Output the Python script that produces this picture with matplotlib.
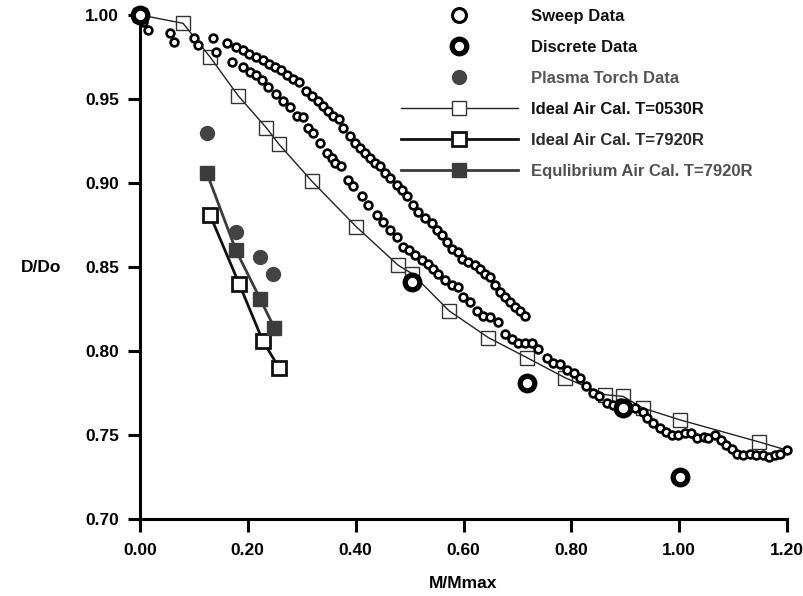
import numpy as np
import matplotlib
matplotlib.use("Agg")
import matplotlib.pyplot as plt
from matplotlib.lines import Line2D

# sweep data (three runs: upper, lower and the merged tail)
sweep_upper_x = [0.006, 0.015, 0.056, 0.100, 0.135, 0.161, 0.178, 0.191, 0.202, 0.215, 0.228,
                 0.239, 0.250, 0.262, 0.273, 0.284, 0.295, 0.308, 0.319, 0.330, 0.340, 0.349,
                 0.358, 0.369, 0.377, 0.390, 0.399, 0.408, 0.417, 0.427, 0.436, 0.445, 0.455,
                 0.464, 0.477, 0.486, 0.495, 0.506, 0.516, 0.529, 0.542, 0.551, 0.560, 0.570,
                 0.579, 0.590, 0.597, 0.609, 0.622, 0.631, 0.640, 0.649, 0.659, 0.668, 0.677,
                 0.686, 0.696, 0.705, 0.714]
sweep_upper_y = [0.996, 0.991, 0.989, 0.986, 0.986, 0.983, 0.981, 0.979, 0.977, 0.975, 0.973,
                 0.971, 0.969, 0.967, 0.964, 0.962, 0.960, 0.955, 0.952, 0.949, 0.946, 0.943,
                 0.940, 0.938, 0.933, 0.928, 0.924, 0.921, 0.918, 0.915, 0.912, 0.910, 0.906,
                 0.903, 0.899, 0.896, 0.892, 0.887, 0.883, 0.879, 0.876, 0.872, 0.869, 0.865,
                 0.861, 0.859, 0.855, 0.853, 0.851, 0.849, 0.846, 0.844, 0.839, 0.835, 0.832,
                 0.829, 0.826, 0.824, 0.821]

sweep_lower_x = [0.063, 0.108, 0.141, 0.171, 0.191, 0.204, 0.215, 0.226, 0.237, 0.252, 0.265,
                 0.278, 0.291, 0.302, 0.312, 0.321, 0.334, 0.347, 0.356, 0.362, 0.373, 0.386,
                 0.395, 0.412, 0.423, 0.440, 0.451, 0.464, 0.477, 0.488, 0.499, 0.510, 0.523,
                 0.534, 0.544, 0.553, 0.566, 0.579, 0.590, 0.599, 0.612, 0.625, 0.636, 0.649,
                 0.664]
sweep_lower_y = [0.984, 0.982, 0.978, 0.972, 0.969, 0.966, 0.964, 0.961, 0.957, 0.953, 0.949,
                 0.945, 0.940, 0.939, 0.933, 0.930, 0.924, 0.918, 0.915, 0.912, 0.910, 0.902,
                 0.898, 0.892, 0.887, 0.881, 0.877, 0.872, 0.868, 0.862, 0.860, 0.857, 0.854,
                 0.852, 0.849, 0.846, 0.842, 0.839, 0.838, 0.832, 0.829, 0.824, 0.821, 0.820,
                 0.817]

sweep_tail_x = [0.677, 0.690, 0.701, 0.714, 0.727, 0.738, 0.755, 0.766, 0.779, 0.792, 0.805,
                0.816, 0.827, 0.840, 0.852, 0.866, 0.878, 0.891, 0.904, 0.918, 0.933, 0.941,
                0.952, 0.965, 0.976, 0.987, 0.998, 1.011, 1.022, 1.033, 1.045, 1.054, 1.067,
                1.078, 1.087, 1.098, 1.108, 1.119, 1.132, 1.143, 1.156, 1.167, 1.178, 1.187,
                1.199]
sweep_tail_y = [0.810, 0.807, 0.805, 0.805, 0.805, 0.801, 0.796, 0.793, 0.792, 0.789, 0.787,
                0.784, 0.779, 0.775, 0.773, 0.769, 0.768, 0.769, 0.766, 0.766, 0.764, 0.760,
                0.757, 0.754, 0.752, 0.750, 0.750, 0.751, 0.751, 0.748, 0.749, 0.748, 0.750,
                0.747, 0.744, 0.742, 0.739, 0.738, 0.739, 0.738, 0.738, 0.737, 0.738, 0.739,
                0.741]

discrete_x = [0.0, 0.505, 0.718, 0.896, 1.002]
discrete_y = [1.0, 0.841, 0.781, 0.766, 0.725]

plasma_x = [0.124, 0.178, 0.223, 0.247]
plasma_y = [0.930, 0.871, 0.856, 0.846]

ideal530_x = [0.0, 0.080, 0.130, 0.182, 0.234, 0.258, 0.319, 0.401, 0.479, 0.505, 0.573,
              0.646, 0.718, 0.789, 0.863, 0.896, 0.933, 1.002, 1.147, 1.200]
ideal530_y = [1.000, 0.995, 0.975, 0.952, 0.933, 0.923, 0.901, 0.874, 0.851, 0.846, 0.824,
              0.808, 0.796, 0.784, 0.774, 0.773, 0.766, 0.759, 0.746, 0.741]

ideal7920_x = [0.130, 0.184, 0.228, 0.258]
ideal7920_y = [0.881, 0.840, 0.806, 0.790]

equil_x = [0.124, 0.178, 0.223, 0.249]
equil_y = [0.906, 0.860, 0.831, 0.814]

labels = ["Sweep Data", "Discrete Data", "Plasma Torch Data", "Ideal Air Cal. T=0530R",
          "Ideal Air Cal. T=7920R", "Equlibrium Air Cal. T=7920R"]
label_colors = ["#111111", "#111111", "#555555", "#111111", "#2a2a2a", "#505050"]

plt.rcParams['font.family'] = ['Liberation Sans', 'DejaVu Sans']
plt.rcParams['font.weight'] = 'bold'

fig = plt.figure(figsize=(8.04, 5.96), dpi=100)
ax = fig.add_axes([0.174, 0.129, 0.805, 0.846])

gray = "#3c3c3c"
ax.plot(ideal530_x, ideal530_y, color="#222222", lw=1.0, marker="s", ms=9.5, mfc="none",
        mec="#333333", mew=1.0, markevery=list(range(len(ideal530_x) - 1)), clip_on=False, zorder=2)
ax.plot(ideal7920_x, ideal7920_y, color="#111111", lw=2.0, marker="s", ms=9.5, mfc="white",
        mec="#111111", mew=2.0, clip_on=False, zorder=3)
ax.plot(equil_x, equil_y, color=gray, lw=2.0, marker="s", ms=9.5, mfc=gray, mec=gray,
        clip_on=False, zorder=3)
for sx, sy in [(sweep_upper_x, sweep_upper_y), (sweep_lower_x, sweep_lower_y),
               (sweep_tail_x, sweep_tail_y)]:
    ax.plot(sx, sy, ls="none", marker="o", ms=5.6, mfc="white", mec="black", mew=1.9,
            clip_on=False, zorder=4)
ax.plot(plasma_x, plasma_y, ls="none", marker="o", ms=10, mfc="#444444", mec="#444444",
        clip_on=False, zorder=4)
ax.plot(discrete_x, discrete_y, ls="none", marker="o", ms=10.5, mfc="white", mec="black",
        mew=3.8, clip_on=False, zorder=5)

ax.set_xlim(0, 1.2)
ax.set_ylim(0.70, 1.00)
ax.set_xticks(np.arange(0, 1.21, 0.2))
ax.set_yticks(np.arange(0.70, 1.001, 0.05))
ax.set_xticklabels([f"{v:.2f}" for v in np.arange(0, 1.21, 0.2)])
ax.set_yticklabels([f"{v:.2f}" for v in np.arange(0.70, 1.001, 0.05)])
for s in ["top", "right"]:
    ax.spines[s].set_visible(False)
for s in ["left", "bottom"]:
    ax.spines[s].set_linewidth(2.2)
ax.tick_params(axis="both", direction="out", length=9, width=2.2, labelsize=12.5, pad=6)
ax.tick_params(axis="x", pad=8)
ax.set_xlabel("M/Mmax", fontsize=12.5, fontweight="bold", labelpad=13)
ax.set_ylabel("D/Do", fontsize=12.5, fontweight="bold", rotation=0, labelpad=32, va="center")

handles = [
    Line2D([], [], ls="none", marker="o", ms=10, mfc="white", mec="black", mew=2.2),
    Line2D([], [], ls="none", marker="o", ms=10.5, mfc="white", mec="black", mew=3.8),
    Line2D([], [], ls="none", marker="o", ms=10, mfc="#444444", mec="#444444"),
    Line2D([], [], color="#222222", lw=1.0, marker="s", ms=9.5, mfc="white", mec="#333333", mew=1.0),
    Line2D([], [], color="#111111", lw=2.0, marker="s", ms=9.5, mfc="white", mec="#111111", mew=2.0),
    Line2D([], [], color=gray, lw=2.0, marker="s", ms=9.5, mfc=gray, mec=gray),
]
leg = fig.legend(handles, labels, loc="upper left", bbox_to_anchor=(0.48, 1.01), frameon=False,
                 fontsize=12, handlelength=7.0, handletextpad=0.8, labelspacing=0.96)
for t, c in zip(leg.get_texts(), label_colors):
    t.set_color(c)

fig.savefig("out.png", dpi=100)
